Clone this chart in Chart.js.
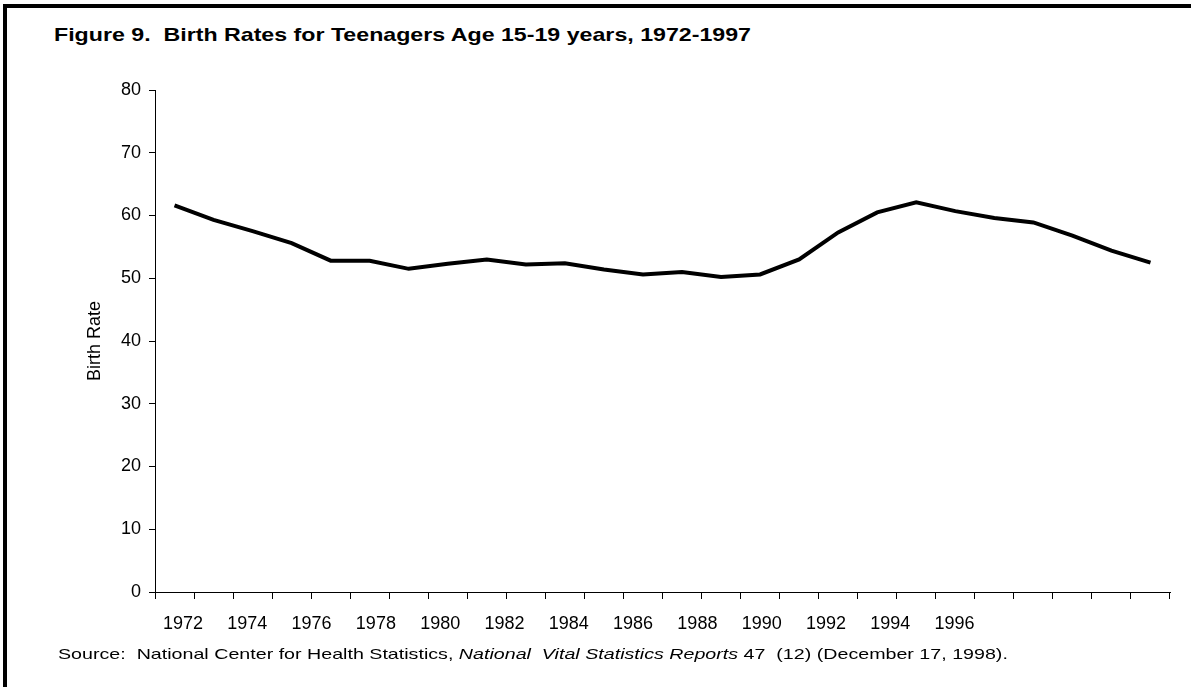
<!DOCTYPE html>
<html>
<head>
<meta charset="utf-8">
<title>Birth Rates for Teenagers Age 15-19 years, 1972-1997</title>
<script src="https://cdn.jsdelivr.net/npm/chart.js@4/dist/chart.umd.min.js"></script>
<style>
  html, body { margin: 0; padding: 0; background: #fff; }
  #wrap { position: relative; width: 1191px; height: 687px; overflow: hidden; font-family: "Liberation Sans", Arial, sans-serif; }
  #frame { position: absolute; left: 3px; top: 4px; width: 1300px; height: 800px; border-left: 4px solid #000; border-top: 4px solid #000; }
  #title { position: absolute; left: 54px; top: 24px; font-size: 19px; font-weight: bold; white-space: pre; transform-origin: left top; transform: scaleX(1.22); }
  #source { position: absolute; left: 58px; top: 645px; font-size: 15px; white-space: pre; transform-origin: left top; transform: scaleX(1.31); }
  #chartBox { position: absolute; left: 0; top: 0; width: 1191px; height: 687px; }
</style>
</head>
<body>
<div id="wrap">
  <div id="frame"></div>
  <div id="title">Figure 9.  Birth Rates for Teenagers Age 15-19 years, 1972-1997</div>
  <div id="chartBox"><canvas id="chart" width="1191" height="687"></canvas></div>
  <div id="source">Source:  National Center for Health Statistics, <i>National  Vital Statistics Reports</i> 47  (12) (December 17, 1998).</div>
</div>
<script>
// data
const years = [1972, 1973, 1974, 1975, 1976, 1977, 1978, 1979, 1980, 1981, 1982, 1983, 1984,
  1985, 1986, 1987, 1988, 1989, 1990, 1991, 1992, 1993, 1994, 1995, 1996, 1997]
const birthRate = [61.6, 59.3, 57.5, 55.6, 52.8, 52.8, 51.5, 52.3, 53.0, 52.2, 52.4, 51.4, 50.6,
  51.0, 50.2, 50.6, 53.0, 57.3, 60.5, 62.1, 60.7, 59.6, 58.9, 56.8, 54.4, 52.5]
const yearTicks = [1972, 1974, 1976, 1978, 1980, 1982, 1984, 1986, 1988, 1990, 1992, 1994, 1996]
const yTicks = [0, 10, 20, 30, 40, 50, 60, 70, 80]

const font = { family: "'Liberation Sans', Arial, sans-serif", size: 18 }

new Chart(document.getElementById("chart"), {
  type: 'line',
  data: {
    labels: years,
    datasets: [{
      label: 'Birth Rate',
      data: birthRate,
      borderColor: '#000',
      borderWidth: 4,
      pointRadius: 0,
      tension: 0,
      xAxisID: 'x',
      yAxisID: 'y'
    }]
  },
  options: {
    responsive: false,
    animation: false,
    devicePixelRatio: 1,
    layout: { padding: { left: 0, top: 90, right: 21, bottom: 48 } },
    plugins: { legend: { display: false }, tooltip: { enabled: false } },
    scales: {
      x: {
        type: 'category',
        offset: true,
        weight: 1,
        grid: { offset: true, drawOnChartArea: false, tickLength: 7, tickColor: '#000', tickWidth: 1 },
        border: { color: '#000', width: 1 },
        ticks: { display: false }
      },
      // year labels run on their own spacing in the original
      xl: {
        type: 'linear',
        position: 'bottom',
        weight: 2,
        min: 1971.13,
        max: 2002.7,
        grid: { display: false, drawTicks: false },
        border: { display: false },
        ticks: {
          color: '#000', font: font, padding: 14, maxRotation: 0, autoSkip: false, includeBounds: false,
          callback: (value) => String(value)
        },
        afterBuildTicks: (scale) => { scale.ticks = yearTicks.map(v => ({ value: v })) },
        afterFit: (scale) => { scale.height = 40 }
      },
      y: {
        min: 0,
        max: 80,
        grid: { drawOnChartArea: false, tickLength: 6, tickColor: '#000' },
        border: { color: '#000', width: 1 },
        ticks: { color: '#000', font: font, padding: 8 },
        afterBuildTicks: (scale) => { scale.ticks = yTicks.map(v => ({ value: v })) },
        title: { display: true, text: 'Birth Rate', color: '#000', font: font, padding: { top: 84, bottom: 0 } },
        afterFit: (scale) => { scale.width = 155 }
      }
    }
  }
})
</script>
</body>
</html>
